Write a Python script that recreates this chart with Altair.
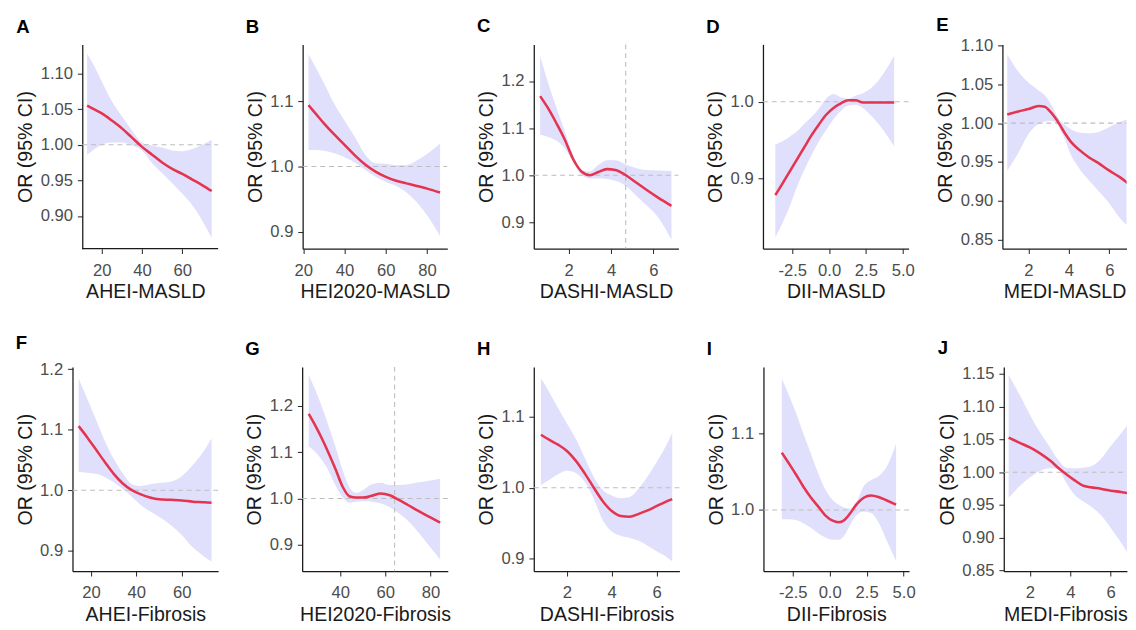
import altair as alt
import pandas as pd

# ---------------- data ----------------
# A  AHEI-MASLD
A_x  = [12.7, 16, 20, 25, 30, 35, 40, 45, 50, 55, 60, 65, 70, 74.6]
A_or = [1.055, 1.050, 1.044, 1.034, 1.023, 1.010, 0.997, 0.986, 0.975, 0.966, 0.959, 0.951, 0.943, 0.935]
A_lo = [0.986, 0.993, 1.000, 1.003, 1.003, 0.999, 0.992, 0.974, 0.960, 0.946, 0.931, 0.915, 0.893, 0.869]
A_hi = [1.128, 1.112, 1.089, 1.061, 1.040, 1.020, 1.003, 0.999, 0.996, 0.992, 0.991, 0.994, 1.000, 1.007]

# B  HEI2020-MASLD
B_x  = [22.5, 26, 30, 35, 40, 45, 50, 55, 60, 65, 70, 75, 80, 86.3]
B_or = [1.094, 1.081, 1.066, 1.049, 1.033, 1.017, 1.003, 0.992, 0.984, 0.978, 0.974, 0.970, 0.966, 0.960]
B_lo = [1.025, 1.025, 1.024, 1.020, 1.014, 1.006, 0.995, 0.984, 0.976, 0.970, 0.960, 0.945, 0.925, 0.893]
B_hi = [1.172, 1.152, 1.128, 1.096, 1.070, 1.045, 1.018, 1.005, 1.004, 1.002, 1.002, 1.009, 1.019, 1.035]

# C  DASHI-MASLD
C_x  = [0.65, 1.0, 1.4, 1.8, 2.2, 2.6, 3.0, 3.4, 3.8, 4.2, 4.7, 5.2, 5.7, 6.2, 6.85]
C_or = [1.168, 1.144, 1.112, 1.077, 1.035, 1.008, 1.000, 1.007, 1.013, 1.011, 1.000, 0.984, 0.968, 0.953, 0.935]
C_lo = [1.086, 1.082, 1.074, 1.058, 1.028, 1.001, 0.993, 0.993, 0.992, 0.988, 0.977, 0.956, 0.935, 0.912, 0.863]
C_hi = [1.254, 1.200, 1.146, 1.095, 1.043, 1.010, 1.008, 1.022, 1.032, 1.032, 1.023, 1.015, 1.011, 1.010, 1.009]

# D  DII-MASLD
D_x  = [-3.65, -3.2, -2.7, -2.2, -1.7, -1.2, -0.7, -0.2, 0.3, 0.8, 1.3, 1.8, 2.3, 2.8, 3.4, 3.9, 4.42]
D_or = [0.878, 0.892, 0.908, 0.924, 0.940, 0.956, 0.970, 0.983, 0.992, 0.998, 1.002, 1.002, 0.999, 0.999, 0.999, 0.999, 0.999]
D_lo = [0.823, 0.840, 0.862, 0.888, 0.910, 0.930, 0.948, 0.963, 0.977, 0.988, 0.995, 0.996, 0.992, 0.983, 0.970, 0.957, 0.942]
D_hi = [0.944, 0.948, 0.954, 0.961, 0.971, 0.980, 0.991, 1.004, 1.010, 1.006, 1.004, 1.008, 1.011, 1.017, 1.029, 1.043, 1.060]

# E  MEDI-MASLD
E_x  = [0.95, 1.5, 2.0, 2.5, 2.8, 3.1, 3.5, 3.8, 4.1, 4.5, 5.0, 5.5, 6.0, 6.5, 7.1]
E_or = [1.011, 1.015, 1.018, 1.022, 1.021, 1.014, 1.000, 0.987, 0.976, 0.966, 0.956, 0.948, 0.939, 0.931, 0.919]
E_lo = [0.939, 0.962, 0.986, 0.999, 1.002, 1.003, 0.995, 0.979, 0.959, 0.942, 0.926, 0.912, 0.897, 0.879, 0.864]
E_hi = [1.088, 1.066, 1.052, 1.042, 1.036, 1.025, 1.006, 0.998, 0.992, 0.988, 0.987, 0.989, 0.995, 1.001, 1.007]

# F  AHEI-Fibrosis
F_x  = [14.5, 18, 22, 26, 30, 34, 38, 42, 46, 50, 55, 60, 65, 70, 73.2]
F_or = [1.106, 1.089, 1.068, 1.047, 1.027, 1.011, 1.000, 0.993, 0.988, 0.985, 0.984, 0.983, 0.981, 0.980, 0.979]
F_lo = [1.030, 1.029, 1.027, 1.022, 1.013, 1.002, 0.989, 0.975, 0.965, 0.956, 0.943, 0.926, 0.905, 0.890, 0.882]
F_hi = [1.185, 1.154, 1.118, 1.082, 1.052, 1.028, 1.010, 1.007, 1.010, 1.012, 1.014, 1.023, 1.042, 1.066, 1.086]

# G  HEI2020-Fibrosis
G_x  = [26, 29, 32, 35, 38, 41, 44, 47, 50, 54, 58, 62, 66, 70, 75, 80, 84.3]
G_or = [1.183, 1.157, 1.128, 1.096, 1.062, 1.026, 1.005, 1.002, 1.002, 1.006, 1.011, 1.007, 0.997, 0.986, 0.972, 0.959, 0.948]
G_lo = [1.113, 1.100, 1.082, 1.058, 1.027, 1.003, 0.991, 0.993, 0.994, 0.993, 0.989, 0.981, 0.968, 0.952, 0.925, 0.894, 0.868]
G_hi = [1.267, 1.234, 1.196, 1.154, 1.110, 1.062, 1.025, 1.012, 1.018, 1.031, 1.034, 1.029, 1.029, 1.031, 1.035, 1.039, 1.043]

# H  DASHI-Fibrosis
H_x  = [0.84, 1.2, 1.6, 2.0, 2.4, 2.8, 3.2, 3.6, 4.0, 4.4, 4.8, 5.2, 5.6, 6.0, 6.4, 6.7]
H_or = [1.075, 1.068, 1.061, 1.052, 1.038, 1.020, 1.000, 0.981, 0.967, 0.960, 0.959, 0.963, 0.968, 0.974, 0.980, 0.984]
H_lo = [1.004, 1.011, 1.019, 1.024, 1.021, 1.008, 0.984, 0.954, 0.938, 0.932, 0.929, 0.925, 0.918, 0.910, 0.903, 0.896]
H_hi = [1.155, 1.136, 1.113, 1.091, 1.069, 1.042, 1.015, 0.997, 0.989, 0.985, 0.987, 0.999, 1.016, 1.036, 1.058, 1.078]

# I  DII-Fibrosis
I_x  = [-3.24, -2.8, -2.3, -1.8, -1.3, -0.8, -0.3, 0.2, 0.6, 1.0, 1.4, 1.8, 2.3, 2.8, 3.3, 3.9, 4.49]
I_or = [1.075, 1.062, 1.047, 1.031, 1.017, 1.005, 0.993, 0.986, 0.984, 0.987, 0.996, 1.007, 1.016, 1.019, 1.017, 1.012, 1.007]
I_lo = [0.988, 0.988, 0.987, 0.983, 0.977, 0.970, 0.964, 0.961, 0.961, 0.967, 0.981, 0.993, 0.998, 0.996, 0.984, 0.958, 0.933]
I_hi = [1.172, 1.152, 1.128, 1.101, 1.075, 1.049, 1.027, 1.013, 1.007, 1.003, 1.002, 1.010, 1.031, 1.039, 1.044, 1.058, 1.087]

# J  MEDI-Fibrosis
J_x  = [0.95, 1.5, 2.0, 2.5, 3.0, 3.4, 3.8, 4.2, 4.6, 5.0, 5.5, 6.0, 6.5, 7.08]
J_or = [1.053, 1.045, 1.038, 1.029, 1.018, 1.007, 0.997, 0.988, 0.980, 0.977, 0.975, 0.972, 0.970, 0.967]
J_lo = [0.961, 0.979, 0.992, 1.002, 1.006, 1.004, 0.984, 0.966, 0.956, 0.948, 0.935, 0.915, 0.893, 0.864]
J_hi = [1.149, 1.118, 1.088, 1.061, 1.038, 1.019, 1.007, 1.006, 1.007, 1.009, 1.020, 1.040, 1.059, 1.082]

letters = ["A", "B", "C", "D", "E", "F", "G", "H", "I", "J"]
x_titles = ["AHEI-MASLD", "HEI2020-MASLD", "DASHI-MASLD", "DII-MASLD", "MEDI-MASLD",
            "AHEI-Fibrosis", "HEI2020-Fibrosis", "DASHI-Fibrosis", "DII-Fibrosis", "MEDI-Fibrosis"]
y_title = "OR (95% CI)"
ref_or = [1.0]
cutoffs = {"C": [4.69], "G": [64.1]}

x_ticks = {
    "A": [20, 40, 60], "B": [20, 40, 60, 80], "C": [2, 4, 6], "D": [-2.5, 0.0, 2.5, 5.0], "E": [2, 4, 6],
    "F": [20, 40, 60], "G": [40, 60, 80], "H": [2, 4, 6], "I": [-2.5, 0.0, 2.5, 5.0], "J": [2, 4, 6],
}
y_ticks = {
    "A": [0.90, 0.95, 1.00, 1.05, 1.10], "B": [0.9, 1.0, 1.1], "C": [0.9, 1.0, 1.1, 1.2],
    "D": [0.9, 1.0], "E": [0.85, 0.90, 0.95, 1.00, 1.05, 1.10],
    "F": [0.9, 1.0, 1.1, 1.2], "G": [0.9, 1.0, 1.1, 1.2], "H": [0.9, 1.0, 1.1],
    "I": [1.0, 1.1], "J": [0.85, 0.90, 0.95, 1.00, 1.05, 1.10, 1.15],
}
x_fmt = {k: ("0.1f" if k in ("D", "I") else "0d") for k in letters}
y_fmt = {k: ("0.2f" if k in ("A", "E", "J") else "0.1f") for k in letters}

series = {
    "A": (A_x, A_or, A_lo, A_hi), "B": (B_x, B_or, B_lo, B_hi), "C": (C_x, C_or, C_lo, C_hi),
    "D": (D_x, D_or, D_lo, D_hi), "E": (E_x, E_or, E_lo, E_hi), "F": (F_x, F_or, F_lo, F_hi),
    "G": (G_x, G_or, G_lo, G_hi), "H": (H_x, H_or, H_lo, H_hi), "I": (I_x, I_or, I_lo, I_hi),
    "J": (J_x, J_or, J_lo, J_hi),
}

# ---------------- layout / style ----------------
x_dom = {
    "A": [10.3, 77.8], "B": [19.7, 89.8], "C": [0.35, 7.18], "D": [-4.49, 5.40], "E": [0.71, 6.85],
    "F": [11.8, 76.1], "G": [23.1, 87.7], "H": [0.52, 7.02], "I": [-4.48, 5.37], "J": [0.71, 6.80],
}
y_dom = {
    "A": [0.854, 1.141], "B": [0.874, 1.187], "C": [0.844, 1.278], "D": [0.808, 1.075], "E": [0.839, 1.101],
    "F": [0.866, 1.204], "G": [0.843, 1.2845], "H": [0.882, 1.171], "I": [0.920, 1.187], "J": [0.849, 1.161],
}
widths = {"A": 139, "B": 148, "C": 148, "D": 149, "E": 127,
          "F": 149, "G": 149, "H": 149, "I": 149, "J": 126}
# panel A's axes sit 10px inside its cell so that its plot lines up with the wider panel F below
insets = {"A": 10}
title_offset = {k: 8 for k in letters}
title_offset["E"] = 2
PLOT_H = 209

FONT = "Liberation Sans"
LINE_COLOR = "#E5344F"
BAND_COLOR = "#E0E0FC"
REF_COLOR = "#BDBDBD"
AXIS_COLOR = "#1A1A1A"


def make_panel(k, xt):
    xs, ors, lo, hi = series[k]
    inset = insets.get(k, 0)
    x0, x1 = x_dom[k]
    per_px = (x1 - x0) / widths[k]
    xscale = alt.Scale(domain=[x0 - inset * per_px, x1], nice=False, zero=False)
    yscale = alt.Scale(domain=y_dom[k], nice=False, zero=False)
    df = pd.DataFrame({"x": xs, "or": ors, "lo": lo, "hi": hi})
    xaxis = alt.Axis(
        values=x_ticks[k], title=xt,
        labelExpr="replace(format(datum.value, '%s'), '\u2212', '-')" % x_fmt[k],
        labelFont=FONT, labelFontSize=17, labelColor="#4D4D4D", labelPadding=9,
        labelFlush=False, labelOverlap=False,
        titleFont=FONT, titleFontSize=20, titleFontWeight="normal", titleColor=AXIS_COLOR,
        titlePadding=4, tickSize=5, tickColor="#333333", tickWidth=1.1,
        domain=(inset == 0), domainColor=AXIS_COLOR, domainWidth=1.3, grid=False,
    )
    yaxis = alt.Axis(
        values=y_ticks[k], title=y_title, format=y_fmt[k], offset=-inset,
        labelFont=FONT, labelFontSize=17, labelColor="#4D4D4D", labelPadding=5,
        labelFlush=False, labelOverlap=False,
        titleFont=FONT, titleFontSize=20, titleFontWeight="normal", titleColor=AXIS_COLOR,
        titlePadding=4.5, tickSize=5, tickColor="#333333", tickWidth=1.1,
        domainColor=AXIS_COLOR, domainWidth=1.3, grid=False,
    )
    X = alt.X("x:Q", scale=xscale, axis=xaxis)
    band = alt.Chart(df).mark_area(color=BAND_COLOR, opacity=1, interpolate="monotone", clip=True).encode(
        x=X, y=alt.Y("lo:Q", scale=yscale, axis=yaxis), y2="hi:Q")
    ref_df = pd.DataFrame({"r": ref_or, "a": [x0], "b": [x1]})
    ref = alt.Chart(ref_df).mark_rule(color=REF_COLOR, strokeWidth=1.1, strokeDash=[5, 4]).encode(
        x=alt.X("a:Q", scale=xscale, axis=xaxis), x2="b:Q",
        y=alt.Y("r:Q", scale=yscale, axis=yaxis))
    layers = [band, ref]
    if k in cutoffs:
        vref = alt.Chart(pd.DataFrame({"c": cutoffs[k]})).mark_rule(
            color=REF_COLOR, strokeWidth=1.1, strokeDash=[5, 4]).encode(
            x=alt.X("c:Q", scale=xscale, axis=xaxis))
        layers.append(vref)
    if inset:
        base_df = pd.DataFrame({"y0": [y_dom[k][0]], "a": [x0], "b": [x1]})
        baseline = alt.Chart(base_df).mark_rule(color=AXIS_COLOR, strokeWidth=1.3).encode(
            x=alt.X("a:Q", scale=xscale, axis=xaxis), x2="b:Q",
            y=alt.Y("y0:Q", scale=yscale, axis=yaxis))
        layers.append(baseline)
    line = alt.Chart(df).mark_line(color=LINE_COLOR, strokeWidth=2.6, interpolate="monotone", clip=True).encode(
        x=X, y=alt.Y("or:Q", scale=yscale, axis=yaxis))
    layers.append(line)
    return alt.layer(*layers).properties(
        width=widths[k] + inset, height=PLOT_H,
        title=alt.TitleParams(text=k, anchor="start", frame="bounds", font=FONT, fontSize=19,
                              fontWeight="bold", color="black", offset=title_offset[k]),
    )


panels = [make_panel(k, xt) for k, xt in zip(letters, x_titles)]

row1 = alt.hconcat(alt.hconcat(*panels[0:4], spacing=26.5), panels[4], spacing=21.5)
row2 = alt.hconcat(alt.hconcat(*panels[5:9], spacing=26.0), panels[9], spacing=21.9)

chart = alt.vconcat(row1, row2, spacing=33).properties(
    padding={"left": 7, "top": 0, "right": 0, "bottom": 0},
    background="white",
).configure_view(strokeWidth=0)

chart.save("out.html", embed_options={"renderer": "svg", "actions": False})
